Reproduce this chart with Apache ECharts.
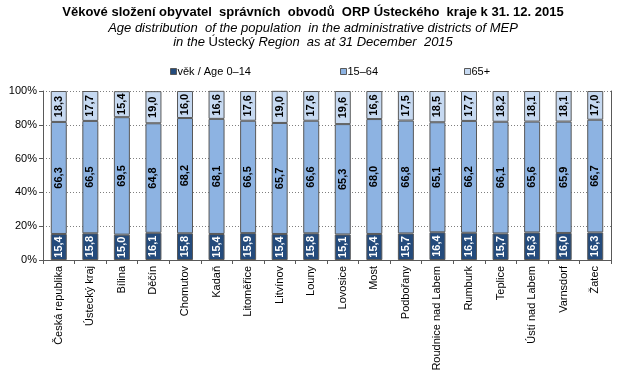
<!DOCTYPE html>
<html>
<head>
    <meta charset="UTF-8">
    <title>Věkové složení obyvatel</title>
    <script src="https://cdn.jsdelivr.net/npm/echarts@6/dist/echarts.min.js"></script>
    <style>
        html, body { margin: 0; padding: 0; background: #fff; }
        #main { width: 626px; height: 377px; }
    </style>
</head>
<body>
    <div id="main"></div>
    <script>
        var categories = ['Česká republika', 'Ústecký kraj', 'Bílina', 'Děčín', 'Chomutov', 'Kadaň',
            'Litoměřice', 'Litvínov', 'Louny', 'Lovosice', 'Most', 'Podbořany', 'Roudnice nad Labem',
            'Rumburk', 'Teplice', 'Ústí nad Labem', 'Varnsdorf', 'Žatec'];
        var age0_14 = [15.4, 15.8, 15.0, 16.1, 15.8, 15.4, 15.9, 15.4, 15.8, 15.1, 15.4, 15.7, 16.4, 16.1, 15.7, 16.3, 16.0, 16.3];
        var age15_64 = [66.3, 66.5, 69.5, 64.8, 68.2, 68.1, 66.5, 65.7, 66.6, 65.3, 68.0, 66.8, 65.1, 66.2, 66.1, 65.6, 65.9, 66.7];
        var age65 = [18.3, 17.7, 15.4, 19.0, 16.0, 16.6, 17.6, 19.0, 17.6, 19.6, 16.6, 17.5, 18.5, 17.7, 18.2, 18.1, 18.1, 17.0];
        var seriesNames = ['věk / Age 0–14', '15–64', '65+'];

        var chart = echarts.init(document.getElementById('main'));

        function fmt(p) {
            return p.value.toFixed(1).replace('.', ',');
        }

        function makeSeries(name, data, color, textColor) {
            return {
                name: name,
                type: 'bar',
                stack: 'total',
                barWidth: 16,
                data: data,
                itemStyle: { color: color, borderColor: '#595959', borderWidth: 1 },
                label: {
                    show: true,
                    position: 'inside',
                    rotate: 90,
                    formatter: fmt,
                    color: textColor,
                    fontFamily: 'Liberation Sans, Arial, sans-serif',
                    fontWeight: 'bold',
                    fontSize: 11
                }
            };
        }

        // one legend per item so each can sit where the original has it
        var legendLeft = [170, 340, 464];
        var legends = seriesNames.map(function (n, i) {
            return {
                top: 66,
                left: legendLeft[i],
                padding: 0,
                itemWidth: 6,
                itemHeight: 6,
                icon: 'rect',
                itemStyle: { borderColor: '#595959', borderWidth: 1 },
                textStyle: { fontSize: 11, color: '#000', padding: [0, 0, 0, -4] },
                data: [n]
            };
        });

        var option = {
            animation: false,
            textStyle: { fontFamily: 'Liberation Sans, Arial, sans-serif' },
            title: {
                text: 'Věkové složení obyvatel  správních  obvodů  ORP Ústeckého  kraje k 31. 12. 2015',
                subtext: '{i|Age distribution  of the population  in the administrative districts of MEP}\n' +
                    '{i|in the }{n|Ústecký}{i| Region  as at 31 December  2015}',
                left: 'center',
                top: 6,
                padding: [0, 12, 0, 0],
                itemGap: 2,
                textStyle: { fontSize: 13, fontWeight: 'bold', color: '#000' },
                subtextStyle: {
                    fontSize: 13, color: '#000', lineHeight: 14,
                    rich: {
                        i: { fontSize: 13, fontStyle: 'italic', color: '#000', lineHeight: 14 },
                        n: { fontSize: 13, color: '#000', lineHeight: 14 }
                    }
                }
            },
            legend: legends,
            grid: { left: 43, right: 15, top: 91, bottom: 117 },
            xAxis: {
                type: 'category',
                data: categories,
                axisLine: { lineStyle: { color: '#595959' } },
                axisTick: { show: true, length: 4, lineStyle: { color: '#595959' } },
                axisLabel: { rotate: 90, fontSize: 11, color: '#000', margin: 6, interval: 0 }
            },
            yAxis: [{
                type: 'value',
                min: 0,
                max: 100,
                interval: 20,
                axisLine: { show: true, lineStyle: { color: '#595959' } },
                axisTick: { show: true, length: 4, lineStyle: { color: '#595959' } },
                axisLabel: { formatter: '{value}%', fontSize: 11, color: '#000', margin: 6 },
                splitLine: { lineStyle: { color: '#7f7f7f', type: [1, 2] } }
            }, {
                type: 'value',
                min: 0,
                max: 100,
                interval: 20,
                position: 'right',
                axisLine: { show: true, lineStyle: { color: '#595959' } },
                axisTick: { show: false },
                axisLabel: { show: false },
                splitLine: { show: false }
            }],
            series: [
                makeSeries(seriesNames[0], age0_14, '#244b7c', '#fff'),
                makeSeries(seriesNames[1], age15_64, '#8db3e2', '#000'),
                makeSeries(seriesNames[2], age65, '#c6d9f1', '#000')
            ]
        };
        chart.setOption(option);
    </script>
</body>
</html>
